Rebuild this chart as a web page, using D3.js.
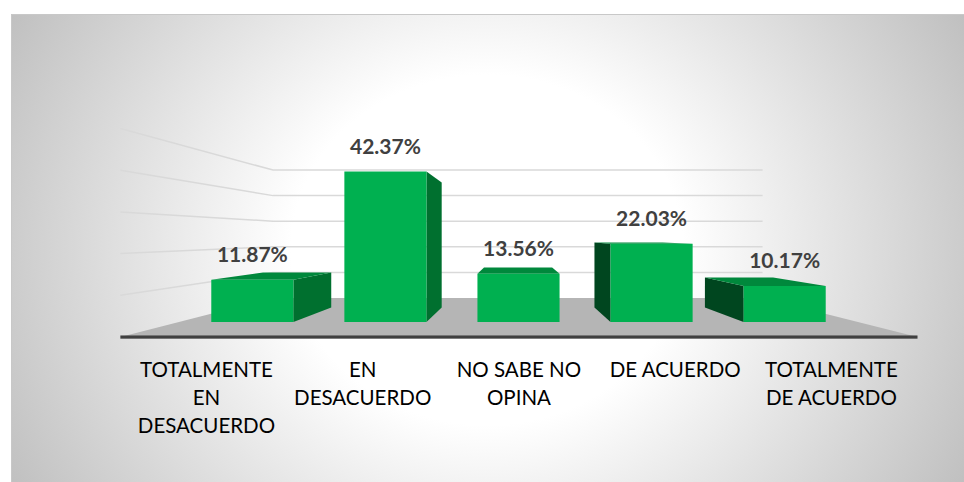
<!DOCTYPE html>
<html>
<head>
<meta charset="utf-8">
<script src="https://cdnjs.cloudflare.com/ajax/libs/d3/7.8.5/d3.min.js"></script>
<style>
  html, body { margin: 0; padding: 0; background: #ffffff; }
  svg { display: block; }
</style>
</head>
<body>
<svg id="chart" width="964" height="482"></svg>
<script>
// ---- data ----
const categories = ["TOTALMENTE EN DESACUERDO", "EN DESACUERDO", "NO SABE NO OPINA", "DE ACUERDO", "TOTALMENTE DE ACUERDO"];
const values = [11.87, 42.37, 13.56, 22.03, 10.17];
const valueLabels = ["11.87%", "42.37%", "13.56%", "22.03%", "10.17%"];
const gridTicks = [10, 20, 30, 40, 50];

// ---- layout ----
const W = 964, H = 482;
const svg = d3.select("#chart");

// perspective: vanishing point and depth factors
const VP = { x: 516, y: 236 };
const D_FLOOR_FRONT = 1.174, D_BAR_FRONT = 1.0, D_BAR_BACK = 0.83, D_WALL = 0.721;
function proj(xf, yf, d) { return [VP.x + (xf - VP.x) * d, VP.y + (yf - VP.y) * d]; }

const x = d3.scaleBand().domain(categories).range([186, 851]).paddingInner(0.383).paddingOuter(0.19);
const y = d3.scaleLinear().domain([0, 50]).range([322, 144.5]);

const floorMargin = 7;
const xL = x.range()[0] - floorMargin, xR = x.range()[1] + floorMargin;

// ---- background ----
const defs = svg.append("defs");
const grad = defs.append("radialGradient")
  .attr("id", "bg").attr("gradientUnits", "userSpaceOnUse")
  .attr("cx", 0).attr("cy", 0).attr("r", 1)
  .attr("gradientTransform", "translate(487,250) scale(560,500)");
grad.append("stop").attr("offset", 0).attr("stop-color", "#ffffff");
grad.append("stop").attr("offset", 0.35).attr("stop-color", "#ffffff");
grad.append("stop").attr("offset", 1).attr("stop-color", "#bdbdbd");

svg.append("rect").attr("x", 11).attr("y", 14).attr("width", W - 11).attr("height", H - 14)
  .attr("fill", "url(#bg)");
svg.append("path").attr("d", `M11.5,${H} V14.5 H${W}`).attr("fill", "none")
  .attr("stroke", "#c8c8c8").attr("stroke-width", 1);

const line = d3.line();

// ---- gridlines (back wall + left wall) ----
const g = svg.append("g");
gridTicks.forEach(t => {
  const pts = [proj(xL, y(t), D_FLOOR_FRONT), proj(xL, y(t), D_WALL), proj(xR, y(t), D_WALL)];
  g.append("path").attr("d", line(pts)).attr("fill", "none")
    .attr("stroke", "#d9d9d9").attr("stroke-width", 1.5);
});

// ---- floor ----
const floorPts = [proj(xL, y(0), D_FLOOR_FRONT), proj(xL, y(0), D_WALL), proj(xR, y(0), D_WALL), proj(xR, y(0), D_FLOOR_FRONT)];
g.append("path").attr("d", line(floorPts) + "Z").attr("fill", "#b5b5b5");
const fl = proj(xL, y(0), D_FLOOR_FRONT), fr = proj(xR, y(0), D_FLOOR_FRONT);
g.append("rect").attr("x", fl[0]).attr("y", fl[1] - 1.5).attr("width", fr[0] - fl[0]).attr("height", 3.2)
  .attr("fill", "#404040");

// ---- bars ----
const C_FRONT = "#00b050", C_TOP = "#00883c", C_RIGHT = "#00702f", C_LEFT = "#00461f";
const bars = svg.append("g");
categories.forEach((c, i) => {
  const v = values[i];
  const x0 = x(c), x1 = x(c) + x.bandwidth();
  const yT = y(v), yB = y(0);
  const bg = bars.append("g");
  if (x1 < VP.x) {
    bg.append("path").attr("fill", C_RIGHT).attr("d", line([
      proj(x1, yT, D_BAR_FRONT), proj(x1, yT, D_BAR_BACK), proj(x1, yB, D_BAR_BACK), proj(x1, yB, D_BAR_FRONT)]) + "Z");
  }
  if (x0 > VP.x) {
    bg.append("path").attr("fill", C_LEFT).attr("d", line([
      proj(x0, yT, D_BAR_FRONT), proj(x0, yT, D_BAR_BACK), proj(x0, yB, D_BAR_BACK), proj(x0, yB, D_BAR_FRONT)]) + "Z");
  }
  if (yT > VP.y) {
    bg.append("path").attr("fill", C_TOP).attr("d", line([
      proj(x0, yT, D_BAR_FRONT), proj(x0, yT, D_BAR_BACK), proj(x1, yT, D_BAR_BACK), proj(x1, yT, D_BAR_FRONT)]) + "Z");
  }
  bg.append("path").attr("fill", C_FRONT).attr("d", line([
    proj(x0, yT, D_BAR_FRONT), proj(x1, yT, D_BAR_FRONT), proj(x1, yB, D_BAR_FRONT), proj(x0, yB, D_BAR_FRONT)]) + "Z");

  // data label
  svg.append("text")
    .attr("x", x(c) + x.bandwidth() / 2).attr("y", yT - 18)
    .attr("text-anchor", "middle")
    .attr("font-family", "Lato, 'Open Sans', sans-serif")
    .attr("font-weight", "bold").attr("font-size", 21)
    .attr("fill", "#404040")
    .text(valueLabels[i]);
});

// ---- category labels (wrapped) ----
const maxW = x.step() * D_FLOOR_FRONT;
categories.forEach(c => {
  const cx = proj(x(c) + x.bandwidth() / 2, y(0), D_FLOOR_FRONT)[0];
  const t = svg.append("text")
    .attr("x", cx).attr("y", 377)
    .attr("text-anchor", "middle")
    .attr("font-family", "Lato, 'Open Sans', sans-serif")
    .attr("font-size", 20.5)
    .attr("fill", "#000000");
  const words = c.split(" ");
  let lineWords = [];
  let ts = t.append("tspan").attr("x", cx).attr("dy", 0);
  words.forEach(w => {
    lineWords.push(w);
    ts.text(lineWords.join(" "));
    if (ts.node().getComputedTextLength() > maxW && lineWords.length > 1) {
      lineWords.pop();
      ts.text(lineWords.join(" "));
      lineWords = [w];
      ts = t.append("tspan").attr("x", cx).attr("dy", 28).text(w);
    }
  });
});
</script>
</body>
</html>
